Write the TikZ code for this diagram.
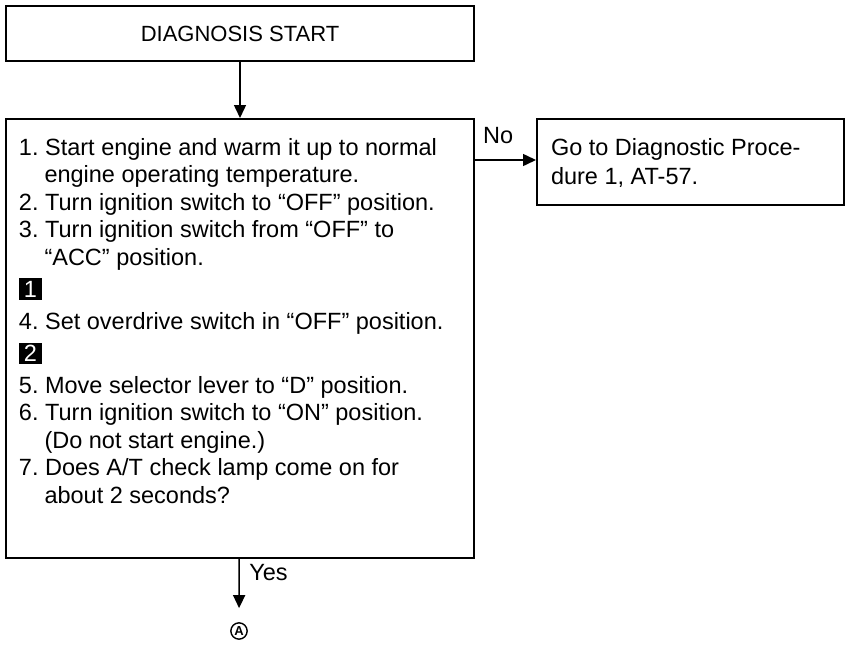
\documentclass[tikz,border=0pt]{standalone}
\usepackage{fontspec}
\setmainfont{Liberation Sans}
\usetikzlibrary{arrows.meta, positioning}

\newcommand{\stepmark}[1]{{\setlength{\fboxsep}{2.5pt}\colorbox{black}{\makebox[18pt]{\textcolor{white}{#1}}}}}
\newcommand{\cont}{\hspace*{25.5pt}}

\begin{document}
\begin{tikzpicture}[
  x=1pt, y=-1pt,
  font=\fontsize{23.5}{27.5}\selectfont,
  box/.style={draw, line width=2pt, inner sep=0pt, anchor=north west},
  flow/.style={-{Triangle[length=13pt, width=12pt]}, line width=1.5pt},
  refmark/.style={draw, circle, line width=1.4pt, inner sep=1.2pt,
                  font=\fontsize{13}{13}\selectfont\bfseries},
]
\useasboundingbox (0,0) rectangle (846,645);
% Start
\node[box, minimum width=468pt, minimum height=55pt,
      font=\fontsize{22}{26}\selectfont] (start) at (5,5) {DIAGNOSIS START};
% Checks
\node[box] (check) at (5,118) {\parbox[t][439pt][t]{468pt}{\raggedright\leftskip=13pt
  \vspace*{19pt}
  1.~Start engine and warm it up to normal\\
  \cont engine operating temperature.\\
  2.~Turn ignition switch to ``OFF'' position.\\
  3.~Turn ignition switch from ``OFF'' to\\
  \cont ``ACC'' position.\\[4.5pt]
  \stepmark{1}\\[5pt]
  4.~Set overdrive switch in ``OFF'' position.\\[4.5pt]
  \stepmark{2}\\[4pt]
  5.~Move selector lever to ``D'' position.\\
  6.~Turn ignition switch to ``ON'' position.\\
  \cont (Do not start engine.)\\
  7.~Does A/T check lamp come on for\\
  \cont about 2 seconds?}};
% NG
\node[box] (goto) at (536,118) {\parbox[t][86pt][t]{307pt}{\raggedright\leftskip=14pt
  \baselineskip=29pt
  \vspace*{19pt}
  Go to Diagnostic Proce-\\
  dure 1, AT-57.}};
\node[refmark] (ptA) at (239,631) {A};

\draw[flow] (start) -- (check);
\draw[flow] ([yshift=-42pt]check.north east) -- ([yshift=-42pt]goto.north west)
  node[pos=0.38, above=12pt] {No};
\draw[flow, shorten >=14pt] (check) -- (ptA)
  node[pos=0.22, right=6pt] {Yes};
\end{tikzpicture}
\end{document}
